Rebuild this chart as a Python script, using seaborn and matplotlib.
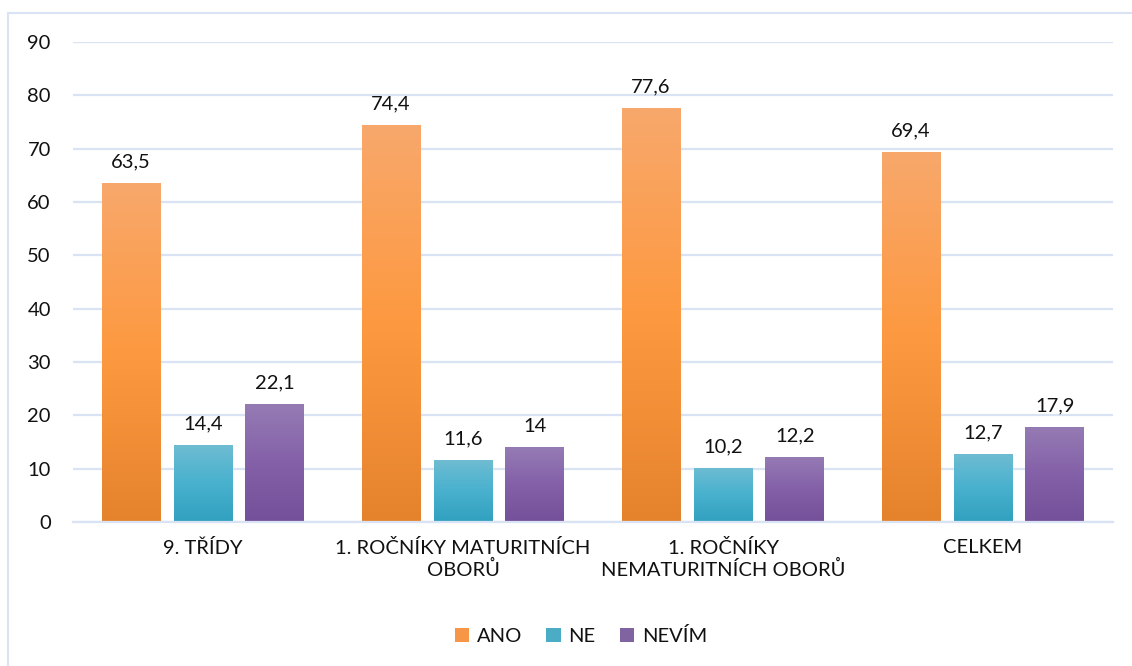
import numpy as np
import pandas as pd
import seaborn as sns
import matplotlib.pyplot as plt
from matplotlib.colors import LinearSegmentedColormap
from matplotlib.patches import Patch
from matplotlib.lines import Line2D

categories = ["9. TŘÍDY", "1. ROČNÍKY MATURITNÍCH\nOBORŮ", "1. ROČNÍKY\nNEMATURITNÍCH OBORŮ", "CELKEM"]
series = ["ANO", "NE", "NEVÍM"]
ano = [63.5, 74.4, 77.6, 69.4]
ne = [14.4, 11.6, 10.2, 12.7]
nevim = [22.1, 14.0, 12.2, 17.9]

df = pd.DataFrame({
    "kategorie": categories * 3,
    "odpoved": ["ANO"] * 4 + ["NE"] * 4 + ["NEVÍM"] * 4,
    "hodnota": ano + ne + nevim,
})

# gradient stops (top, middle, bottom) per series
grads = {
    "ANO": ["#F8A86C", "#FD9940", "#E5832D"],
    "NE": ["#6EBCD2", "#48B1CE", "#31A0BF"],
    "NEVÍM": ["#957BB4", "#8460A8", "#74509A"],
}
solid = {"ANO": "#F79646", "NE": "#4BACC6", "NEVÍM": "#8064A2"}
grid_col = "#D9E3F3"
fs = 14.5

sns.set_style("white")
plt.rcParams["font.family"] = ["Lato", "DejaVu Sans"]
plt.rcParams["text.color"] = "#111111"
plt.rcParams["xtick.labelcolor"] = "#111111"
plt.rcParams["ytick.labelcolor"] = "#111111"

fig = plt.figure(figsize=(11.32, 6.66), dpi=100)
ax = fig.add_axes([73 / 1132, 1 - 522 / 666, (1113 - 73) / 1132, (522 - 42) / 666])

sns.barplot(data=df, x="kategorie", y="hodnota", hue="odpoved", order=categories,
            hue_order=series, palette=solid, width=0.83, gap=0.18, ax=ax,
            legend=False, errorbar=None)

ax.set_xlim(-0.5, 3.5)
ax.set_ylim(0, 90)
ax.set_yticks(range(0, 91, 10))
ax.yaxis.grid(True, color=grid_col, linewidth=1.6)
ax.set_axisbelow(True)
for s in ["top", "right", "left"]:
    ax.spines[s].set_visible(False)
ax.spines["bottom"].set_color(grid_col)
ax.spines["bottom"].set_linewidth(1.6)
ax.set_xlabel("")
ax.set_ylabel("")
ax.tick_params(axis="y", length=0, labelsize=fs, pad=16)
ax.tick_params(axis="x", which="major", length=0, labelsize=fs, pad=12)
ax.set_xticks(np.arange(-0.5, 3.6, 1.0), minor=True)
ax.tick_params(axis="x", which="minor", length=6, color=grid_col, width=1.6)
for lbl in ax.get_xticklabels():
    lbl.set_multialignment("center")

# labels with comma decimal
for cont in ax.containers:
    ax.bar_label(cont, fmt=lambda v: f"{v:g}".replace(".", ","), padding=9, fontsize=fs)

# gradient fill
for cont, name in zip(ax.containers, series):
    cmap = LinearSegmentedColormap.from_list(name, grads[name][::-1])
    grad = np.linspace(0, 1, 256).reshape(-1, 1)
    for bar in cont.patches:
        x0, y0 = bar.get_x(), bar.get_y()
        w, h = bar.get_width(), bar.get_height()
        im = ax.imshow(grad, cmap=cmap, aspect="auto", origin="lower",
                       extent=(x0, x0 + w, y0, y0 + h), zorder=bar.get_zorder())
        im.set_clip_path(bar)
        bar.set_facecolor("none")
        bar.set_edgecolor("none")
ax.set_xlim(-0.5, 3.5)
ax.set_ylim(0, 90)

handles = [Patch(facecolor=solid[s], edgecolor="none") for s in series]
fig.legend(handles, series, loc="center", bbox_to_anchor=(581 / 1132, 1 - 636 / 666),
           ncol=3, frameon=False, fontsize=fs, handlelength=0.7, handleheight=0.7,
           handletextpad=0.4, columnspacing=1.2)

# chart frame
fig.add_artist(Line2D([8 / 1132, 8 / 1132], [0, 1 - 13 / 666], color=grid_col, lw=1.5, transform=fig.transFigure))
fig.add_artist(Line2D([8 / 1132, 1], [1 - 13 / 666, 1 - 13 / 666], color=grid_col, lw=1.5, transform=fig.transFigure))

fig.savefig("out.png", dpi=100, facecolor="white")
